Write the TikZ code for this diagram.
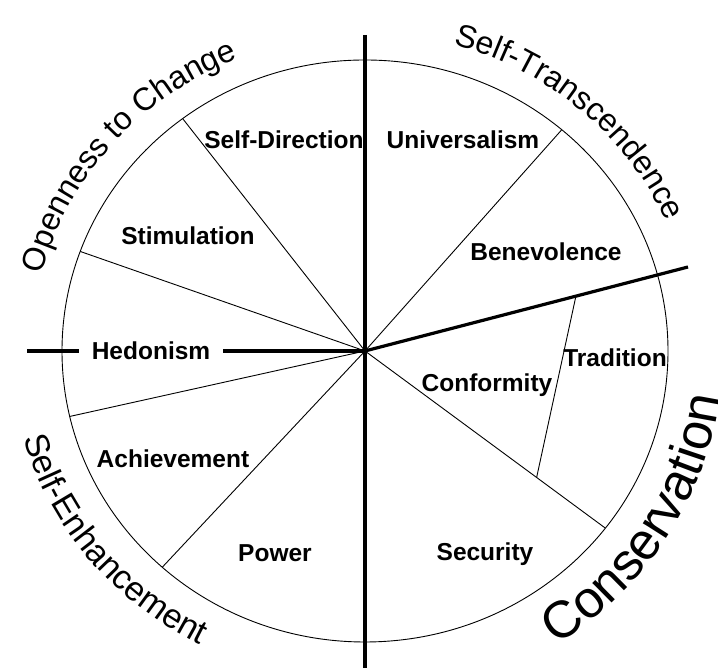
\documentclass[tikz,border=0pt]{standalone}
\usepackage{fontspec}
\setmainfont{Liberation Sans}
\usetikzlibrary{calc,decorations.text}

\newcommand\topfont{\fontsize{32}{37}\selectfont}
\newcommand\lowfont{\fontsize{34}{39}\selectfont}
\newcommand\bigfont{\fontsize{52}{60}\selectfont}

\tikzset{
    value/.style={font=\bfseries\fontsize{24.5}{28}\selectfont, text height=17.5pt, text depth=0pt, inner sep=0pt},
    spoke/.style={line width=0.9pt},
    axis/.style={line width=3.2pt},
    arclabel/.style={decorate, decoration={text along path, text align=center, text={#1}}}
}

\begin{document}
\begin{tikzpicture}[x=1pt, y=1pt]
        \useasboundingbox (0,0) rectangle (718,668);
        \coordinate (c) at (365,317);
        \coordinate (ce) at (688,401);
        \coordinate (cs) at ([shift={(c)}]-37.5:303pt and 291pt);
        % circle and value borders
        \draw[spoke] (c) ellipse [x radius=303pt, y radius=291pt];
        \foreach \a in {49.5, 127, 160, 193, 228}{
                \draw[spoke] (c) -- ([shift={(c)}]\a:303pt and 291pt);
            }
        \draw[spoke] (c) -- (cs);
        \draw[spoke] ($(c)!0.653!(ce)$) -- ($(c)!0.714!(cs)$);
        % dimension axes
        \draw[axis] (365,633) -- (365,0);
        \draw[axis] (27,317) -- (c);
        \draw[axis] (c) -- (ce);
            \node[value] (selfdir) at (284,528) {Self-Direction};
            \node[value] (univ) at (463,528) {Universalism};
            \node[value] (stim) at (188,432) {Stimulation};
            \node[value] (benev) at (546,416) {Benevolence};
            \node[value, fill=white, inner xsep=12.5pt, inner ysep=3pt] (hedon) at (151,317) {Hedonism};
            \node[value] (trad) at (615,310) {Tradition};
            \node[value] (conf) at (487,285) {Conformity};
            \node[value] (achiev) at (173,209) {Achievement};
            \node[value] (power) at (275,115) {Power};
            \node[value] (secur) at (485,116) {Security};
        % higher order labels
        \path[arclabel={|\topfont|Openness to Change}] ([shift={(c)}]180:333pt and 316pt) arc[start angle=180, end angle=99, x radius=333pt, y radius=316pt];
        \path[arclabel={|\topfont|Self-Transcendence}] ([shift={(c)}]88:330pt and 318pt) arc[start angle=88, end angle=10, x radius=330pt, y radius=318pt];
        \path[arclabel={|\lowfont|Self-Enhancement}] ([shift={(c)}]185:354pt and 332pt) arc[start angle=185, end angle=252, x radius=354pt, y radius=332pt];
        \path[arclabel={|\bigfont|Conservation}] ([shift={(c)}]-70:358pt and 348pt) arc[start angle=-70, end angle=5, x radius=358pt, y radius=348pt];
    \end{tikzpicture}
\end{document}
